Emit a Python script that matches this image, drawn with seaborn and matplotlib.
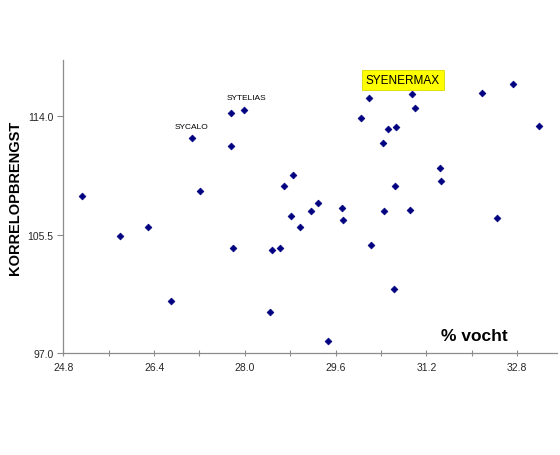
import matplotlib
matplotlib.use("Agg")
import matplotlib.pyplot as plt
from matplotlib import font_manager
from matplotlib.ticker import MultipleLocator, FormatStrFormatter
import seaborn as sns
import pandas as pd

# ---- data ----
vocht = [25.13, 25.80, 26.30, 26.69, 27.06, 27.21, 27.75, 27.76, 27.79, 27.99,
         28.45, 28.48, 28.62, 28.69, 28.82, 28.85, 28.97, 29.16, 29.29, 29.46,
         29.72, 29.73, 30.04, 30.19, 30.23, 30.43, 30.46, 30.53, 30.65, 30.63,
         30.67, 30.91, 30.95, 31.00, 31.43, 31.46, 32.17, 32.45, 32.73, 33.19]
opbrengst = [108.23, 105.37, 106.04, 100.76, 112.43, 108.59, 114.22, 111.83, 104.51, 114.43,
             99.93, 104.39, 104.53, 108.99, 106.82, 109.76, 106.06, 107.20, 107.75, 97.86,
             107.40, 106.52, 113.84, 115.25, 104.75, 112.03, 107.18, 113.05, 108.95, 101.58,
             113.21, 107.23, 115.57, 114.55, 110.29, 109.36, 115.67, 106.66, 116.25, 113.24]
labels = ["", "", "", "", "SYCALO", "", "", "", "", "SYTELIAS",
          "", "", "", "", "", "", "", "", "", "",
          "", "", "", "", "", "", "", "", "", "",
          "", "", "SYENERMAX", "", "", "", "", "", "", ""]
x_ticks = [24.8, 26.4, 28.0, 29.6, 31.2, 32.8]
y_ticks = [97.0, 105.5, 114.0]
x_label = "% vocht"
y_label = "KORRELOPBRENGST"

df = pd.DataFrame({"vocht": vocht, "opbrengst": opbrengst, "label": labels})

names = {f.name for f in font_manager.fontManager.ttflist}
narrow = "Liberation Sans Narrow" if "Liberation Sans Narrow" in names else "Liberation Sans"

sns.set_theme(style="white")
plt.rcParams["font.family"] = [narrow, "DejaVu Sans"]

fig = plt.figure(figsize=(5.6, 4.56), dpi=100)
ax = fig.add_axes([63.3 / 560, 1 - 354.3 / 456, (557 - 63.3) / 560, (354.3 - 61) / 456])

sns.scatterplot(data=df, x="vocht", y="opbrengst", marker="D", s=12,
                color="#000080", edgecolor="#000080", linewidth=0.5, ax=ax, legend=False)

ax.set_xlim(24.8, 33.5)
ax.set_ylim(97.0, 118.0)
ax.set_xticks(x_ticks)
ax.xaxis.set_minor_locator(MultipleLocator(0.8))
ax.set_yticks(y_ticks)
ax.xaxis.set_major_formatter(FormatStrFormatter("%.1f"))
ax.yaxis.set_major_formatter(FormatStrFormatter("%.1f"))

for side in ["top", "right"]:
    ax.spines[side].set_visible(False)
for side in ["left", "bottom"]:
    ax.spines[side].set_color("#8c8c8c")
    ax.spines[side].set_linewidth(0.9)

ax.tick_params(axis="x", which="both", direction="inout", length=5, width=0.8,
               color="#8c8c8c", labelsize=7.5, labelcolor="#262626", pad=4, bottom=True)
ax.tick_params(axis="y", which="major", direction="out", length=4, width=0.8,
               color="#8c8c8c", labelsize=7.5, labelcolor="#262626", pad=3, left=True)

ax.set_xlabel("")
ax.set_ylabel("")
ax.text(32.04, 98.3, x_label, ha="center", va="center", fontsize=12.5,
        fontweight="bold", color="#000000")
fig.text(15 / 560, 1 - 198 / 456, y_label, rotation=90, ha="center", va="center",
         fontsize=10.5, fontweight="bold", family=["Liberation Sans", "DejaVu Sans"],
         color="#000000")

offsets = {"SYCALO": (0, 11.7), "SYTELIAS": (2.4, 12.4), "SYENERMAX": (-9.3, 13.7)}
for xv, yv, lab in zip(vocht, opbrengst, labels):
    if not lab:
        continue
    dx, dy = offsets[lab]
    if lab == "SYENERMAX":
        ax.annotate(lab, (xv, yv), xytext=(dx * 0.72, dy * 0.72), textcoords="offset points",
                    ha="center", va="center", fontsize=8.5, color="#000000",
                    bbox=dict(boxstyle="square,pad=0.33", facecolor="#ffff00",
                              edgecolor="#d9d900", linewidth=0.6),
                    annotation_clip=False)
    else:
        ax.annotate(lab, (xv, yv), xytext=(dx * 0.72, dy * 0.72), textcoords="offset points",
                    ha="center", va="center", fontsize=6, color="#000000",
                    annotation_clip=False)

fig.savefig("out.png", dpi=100, facecolor="white")
